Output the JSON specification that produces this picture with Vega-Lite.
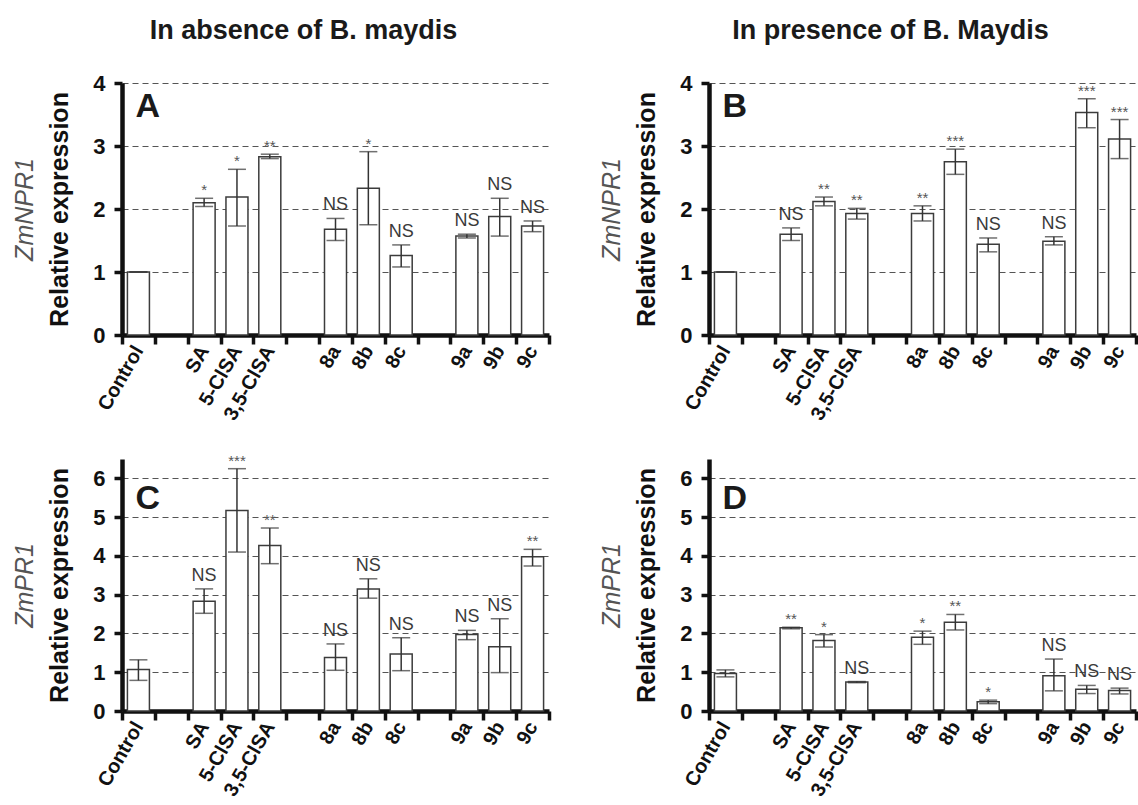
{
  "$schema": "https://vega.github.io/schema/vega-lite/v6.json",
  "background": "white",
  "padding": {"left": 12, "top": 17, "right": 0, "bottom": 0},
  "datasets": {
    "A": [
      {"cond": "Control", "value": 1.00, "lower": 1.00, "upper": 1.00, "sig": ""},
      {"cond": "SA", "value": 2.10, "lower": 2.04, "upper": 2.17, "sig": "*"},
      {"cond": "5-ClSA", "value": 2.19, "lower": 1.73, "upper": 2.63, "sig": "*"},
      {"cond": "3,5-ClSA", "value": 2.83, "lower": 2.80, "upper": 2.87, "sig": "**"},
      {"cond": "8a", "value": 1.68, "lower": 1.50, "upper": 1.85, "sig": "NS"},
      {"cond": "8b", "value": 2.33, "lower": 1.75, "upper": 2.91, "sig": "*"},
      {"cond": "8c", "value": 1.26, "lower": 1.08, "upper": 1.43, "sig": "NS"},
      {"cond": "9a", "value": 1.57, "lower": 1.54, "upper": 1.60, "sig": "NS"},
      {"cond": "9b", "value": 1.88, "lower": 1.57, "upper": 2.17, "sig": "NS"},
      {"cond": "9c", "value": 1.73, "lower": 1.64, "upper": 1.81, "sig": "NS"}
    ],
    "B": [
      {"cond": "Control", "value": 1.00, "lower": 1.00, "upper": 1.00, "sig": ""},
      {"cond": "SA", "value": 1.60, "lower": 1.50, "upper": 1.70, "sig": "NS"},
      {"cond": "5-ClSA", "value": 2.12, "lower": 2.05, "upper": 2.19, "sig": "**"},
      {"cond": "3,5-ClSA", "value": 1.93, "lower": 1.84, "upper": 2.01, "sig": "**"},
      {"cond": "8a", "value": 1.93, "lower": 1.81, "upper": 2.05, "sig": "**"},
      {"cond": "8b", "value": 2.75, "lower": 2.55, "upper": 2.95, "sig": "***"},
      {"cond": "8c", "value": 1.44, "lower": 1.32, "upper": 1.54, "sig": "NS"},
      {"cond": "9a", "value": 1.49, "lower": 1.43, "upper": 1.56, "sig": "NS"},
      {"cond": "9b", "value": 3.53, "lower": 3.29, "upper": 3.75, "sig": "***"},
      {"cond": "9c", "value": 3.11, "lower": 2.80, "upper": 3.42, "sig": "***"}
    ],
    "C": [
      {"cond": "Control", "value": 1.07, "lower": 0.79, "upper": 1.32, "sig": ""},
      {"cond": "SA", "value": 2.83, "lower": 2.52, "upper": 3.15, "sig": "NS"},
      {"cond": "5-ClSA", "value": 5.17, "lower": 4.10, "upper": 6.25, "sig": "***"},
      {"cond": "3,5-ClSA", "value": 4.27, "lower": 3.80, "upper": 4.72, "sig": "**"},
      {"cond": "8a", "value": 1.38, "lower": 1.05, "upper": 1.73, "sig": "NS"},
      {"cond": "8b", "value": 3.15, "lower": 2.91, "upper": 3.41, "sig": "NS"},
      {"cond": "8c", "value": 1.47, "lower": 1.04, "upper": 1.89, "sig": "NS"},
      {"cond": "9a", "value": 1.97, "lower": 1.84, "upper": 2.08, "sig": "NS"},
      {"cond": "9b", "value": 1.66, "lower": 0.99, "upper": 2.38, "sig": "NS"},
      {"cond": "9c", "value": 3.98, "lower": 3.74, "upper": 4.17, "sig": "**"}
    ],
    "D": [
      {"cond": "Control", "value": 0.97, "lower": 0.88, "upper": 1.06, "sig": ""},
      {"cond": "SA", "value": 2.15, "lower": 2.12, "upper": 2.16, "sig": "**"},
      {"cond": "5-ClSA", "value": 1.82, "lower": 1.65, "upper": 1.97, "sig": "*"},
      {"cond": "3,5-ClSA", "value": 0.75, "lower": 0.73, "upper": 0.76, "sig": "NS"},
      {"cond": "8a", "value": 1.90, "lower": 1.72, "upper": 2.06, "sig": "*"},
      {"cond": "8b", "value": 2.29, "lower": 2.09, "upper": 2.49, "sig": "**"},
      {"cond": "8c", "value": 0.24, "lower": 0.19, "upper": 0.28, "sig": "*"},
      {"cond": "9a", "value": 0.91, "lower": 0.52, "upper": 1.34, "sig": "NS"},
      {"cond": "9b", "value": 0.56, "lower": 0.45, "upper": 0.66, "sig": "NS"},
      {"cond": "9c", "value": 0.53, "lower": 0.44, "upper": 0.59, "sig": "NS"}
    ]
  },
  "config": {
    "font": "Liberation Sans",
    "view": {"stroke": null},
    "axis": {"domainColor": "#111", "domainWidth": 4.5, "tickColor": "#111", "tickWidth": 3.5, "labelColor": "#111", "labelFont": "Liberation Sans", "labelFontWeight": "bold", "titleFont": "Liberation Sans", "titleColor": "#111"},
    "axisX": {"domainWidth": 4.5, "tickWidth": 3.5, "labelAngle": -60, "labelAlign": "right", "labelBaseline": "middle", "labelFontSize": 20, "labelPadding": 3, "tickSize": 9, "tickBand": "extent", "labelOverlap": false, "grid": false, "zindex": 1},
    "axisY": {"domainWidth": 4.5, "tickWidth": 3.5, "labelFontSize": 22, "labelPadding": 9, "tickSize": 8, "titleFontSize": 25, "titleFontWeight": "bold", "titlePadding": 20, "grid": true, "gridDash": [6, 4], "gridColor": "#555", "gridWidth": 1.2}
  },
  "columns": 2,
  "bounds": "flush",
  "spacing": {"row": 124, "column": 160},
  "concat": [
    {
      "width": 427, "height": 252,
      "title": {"text": "In absence of B. maydis", "fontSize": 27, "fontWeight": "bold", "color": "#1a1a1a", "frame": "group", "dx": -32, "offset": 27},
      "data": {"name": "A"},
      "encoding": {"x": {"field": "cond", "type": "nominal", "scale": {"domain": ["Control", "g1", "SA", "5-ClSA", "3,5-ClSA", "g2", "8a", "8b", "8c", "g3", "9a", "9b", "9c"], "paddingInner": 0, "paddingOuter": 0}, "axis": {"title": null, "labelExpr": "indexof(['g1','g2','g3'], datum.value) >= 0 ? '' : datum.value"}}},
      "layer": [
        {"mark": {"type": "bar", "fill": "white", "stroke": "#3c3c3c", "strokeWidth": 1.5, "width": {"band": 0.67}},
         "encoding": {"y": {"field": "value", "type": "quantitative", "scale": {"domain": [0, 4], "nice": false}, "axis": {"title": "Relative expression", "values": [0, 1, 2, 3, 4]}}}},
        {"mark": {"type": "rule", "color": "#333", "strokeWidth": 1.5}, "encoding": {"y": {"field": "lower", "type": "quantitative", "scale": {"domain": [0, 4], "nice": false}, "axis": null}, "y2": {"field": "upper"}}},
        {"mark": {"type": "tick", "color": "#333", "thickness": 1.5, "size": 18}, "encoding": {"y": {"field": "lower", "type": "quantitative", "scale": {"domain": [0, 4], "nice": false}, "axis": null}}},
        {"mark": {"type": "tick", "color": "#333", "thickness": 1.5, "size": 18}, "encoding": {"y": {"field": "upper", "type": "quantitative", "scale": {"domain": [0, 4], "nice": false}, "axis": null}}},
        {"transform": [{"filter": "datum.sig === 'NS'"}], "mark": {"type": "text", "baseline": "alphabetic", "dy": -8, "fontSize": 18, "color": "#3a3a3a"}, "encoding": {"y": {"field": "upper", "type": "quantitative", "scale": {"domain": [0, 4], "nice": false}, "axis": null}, "text": {"field": "sig"}}},
        {"transform": [{"filter": "indexof(datum.sig, '*') >= 0"}], "mark": {"type": "text", "baseline": "alphabetic", "dy": -3, "fontSize": 15, "color": "#555"}, "encoding": {"y": {"field": "upper", "type": "quantitative", "scale": {"domain": [0, 4], "nice": false}, "axis": null}, "text": {"field": "sig"}}},
        {"data": {"values": [{"cond": "Control", "ly": 3.46, "letter": "A"}]},
         "mark": {"type": "text", "align": "left", "baseline": "alphabetic", "dx": -3, "fontSize": 34, "fontWeight": "bold", "color": "#1a1a1a"},
         "encoding": {"y": {"field": "ly", "type": "quantitative", "scale": {"domain": [0, 4], "nice": false}, "axis": {"orient": "left", "title": "ZmNPR1", "titleFontStyle": "italic", "titleFontWeight": "normal", "titleColor": "#555", "titlePadding": 85, "labels": false, "ticks": false, "domain": false, "grid": false}}, "text": {"field": "letter"}}}
      ],
      "resolve": {"scale": {"y": "independent"}}
    },
    {
      "width": 427, "height": 252,
      "title": {"text": "In presence of B. Maydis", "fontSize": 27, "fontWeight": "bold", "color": "#1a1a1a", "frame": "group", "dx": -32, "offset": 27},
      "data": {"name": "B"},
      "encoding": {"x": {"field": "cond", "type": "nominal", "scale": {"domain": ["Control", "g1", "SA", "5-ClSA", "3,5-ClSA", "g2", "8a", "8b", "8c", "g3", "9a", "9b", "9c"], "paddingInner": 0, "paddingOuter": 0}, "axis": {"title": null, "labelExpr": "indexof(['g1','g2','g3'], datum.value) >= 0 ? '' : datum.value"}}},
      "layer": [
        {"mark": {"type": "bar", "fill": "white", "stroke": "#3c3c3c", "strokeWidth": 1.5, "width": {"band": 0.67}},
         "encoding": {"y": {"field": "value", "type": "quantitative", "scale": {"domain": [0, 4], "nice": false}, "axis": {"title": "Relative expression", "values": [0, 1, 2, 3, 4]}}}},
        {"mark": {"type": "rule", "color": "#333", "strokeWidth": 1.5}, "encoding": {"y": {"field": "lower", "type": "quantitative", "scale": {"domain": [0, 4], "nice": false}, "axis": null}, "y2": {"field": "upper"}}},
        {"mark": {"type": "tick", "color": "#333", "thickness": 1.5, "size": 18}, "encoding": {"y": {"field": "lower", "type": "quantitative", "scale": {"domain": [0, 4], "nice": false}, "axis": null}}},
        {"mark": {"type": "tick", "color": "#333", "thickness": 1.5, "size": 18}, "encoding": {"y": {"field": "upper", "type": "quantitative", "scale": {"domain": [0, 4], "nice": false}, "axis": null}}},
        {"transform": [{"filter": "datum.sig === 'NS'"}], "mark": {"type": "text", "baseline": "alphabetic", "dy": -8, "fontSize": 18, "color": "#3a3a3a"}, "encoding": {"y": {"field": "upper", "type": "quantitative", "scale": {"domain": [0, 4], "nice": false}, "axis": null}, "text": {"field": "sig"}}},
        {"transform": [{"filter": "indexof(datum.sig, '*') >= 0"}], "mark": {"type": "text", "baseline": "alphabetic", "dy": -3, "fontSize": 15, "color": "#555"}, "encoding": {"y": {"field": "upper", "type": "quantitative", "scale": {"domain": [0, 4], "nice": false}, "axis": null}, "text": {"field": "sig"}}},
        {"data": {"values": [{"cond": "Control", "ly": 3.46, "letter": "B"}]},
         "mark": {"type": "text", "align": "left", "baseline": "alphabetic", "dx": -3, "fontSize": 34, "fontWeight": "bold", "color": "#1a1a1a"},
         "encoding": {"y": {"field": "ly", "type": "quantitative", "scale": {"domain": [0, 4], "nice": false}, "axis": {"orient": "left", "title": "ZmNPR1", "titleFontStyle": "italic", "titleFontWeight": "normal", "titleColor": "#555", "titlePadding": 85, "labels": false, "ticks": false, "domain": false, "grid": false}}, "text": {"field": "letter"}}}
      ],
      "resolve": {"scale": {"y": "independent"}}
    },
    {
      "width": 427, "height": 252,
      "data": {"name": "C"},
      "encoding": {"x": {"field": "cond", "type": "nominal", "scale": {"domain": ["Control", "g1", "SA", "5-ClSA", "3,5-ClSA", "g2", "8a", "8b", "8c", "g3", "9a", "9b", "9c"], "paddingInner": 0, "paddingOuter": 0}, "axis": {"title": null, "labelExpr": "indexof(['g1','g2','g3'], datum.value) >= 0 ? '' : datum.value"}}},
      "layer": [
        {"mark": {"type": "bar", "fill": "white", "stroke": "#3c3c3c", "strokeWidth": 1.5, "width": {"band": 0.67}},
         "encoding": {"y": {"field": "value", "type": "quantitative", "scale": {"domain": [0, 6.5], "nice": false}, "axis": {"title": "Relative expression", "values": [0, 1, 2, 3, 4, 5, 6]}}}},
        {"mark": {"type": "rule", "color": "#333", "strokeWidth": 1.5}, "encoding": {"y": {"field": "lower", "type": "quantitative", "scale": {"domain": [0, 6.5], "nice": false}, "axis": null}, "y2": {"field": "upper"}}},
        {"mark": {"type": "tick", "color": "#333", "thickness": 1.5, "size": 18}, "encoding": {"y": {"field": "lower", "type": "quantitative", "scale": {"domain": [0, 6.5], "nice": false}, "axis": null}}},
        {"mark": {"type": "tick", "color": "#333", "thickness": 1.5, "size": 18}, "encoding": {"y": {"field": "upper", "type": "quantitative", "scale": {"domain": [0, 6.5], "nice": false}, "axis": null}}},
        {"transform": [{"filter": "datum.sig === 'NS'"}], "mark": {"type": "text", "baseline": "alphabetic", "dy": -8, "fontSize": 18, "color": "#3a3a3a"}, "encoding": {"y": {"field": "upper", "type": "quantitative", "scale": {"domain": [0, 6.5], "nice": false}, "axis": null}, "text": {"field": "sig"}}},
        {"transform": [{"filter": "indexof(datum.sig, '*') >= 0"}], "mark": {"type": "text", "baseline": "alphabetic", "dy": -3, "fontSize": 15, "color": "#555"}, "encoding": {"y": {"field": "upper", "type": "quantitative", "scale": {"domain": [0, 6.5], "nice": false}, "axis": null}, "text": {"field": "sig"}}},
        {"data": {"values": [{"cond": "Control", "ly": 5.22, "letter": "C"}]},
         "mark": {"type": "text", "align": "left", "baseline": "alphabetic", "dx": -3, "fontSize": 34, "fontWeight": "bold", "color": "#1a1a1a"},
         "encoding": {"y": {"field": "ly", "type": "quantitative", "scale": {"domain": [0, 6.5], "nice": false}, "axis": {"orient": "left", "title": "ZmPR1", "titleFontStyle": "italic", "titleFontWeight": "normal", "titleColor": "#555", "titlePadding": 85, "labels": false, "ticks": false, "domain": false, "grid": false}}, "text": {"field": "letter"}}}
      ],
      "resolve": {"scale": {"y": "independent"}}
    },
    {
      "width": 427, "height": 252,
      "data": {"name": "D"},
      "encoding": {"x": {"field": "cond", "type": "nominal", "scale": {"domain": ["Control", "g1", "SA", "5-ClSA", "3,5-ClSA", "g2", "8a", "8b", "8c", "g3", "9a", "9b", "9c"], "paddingInner": 0, "paddingOuter": 0}, "axis": {"title": null, "labelExpr": "indexof(['g1','g2','g3'], datum.value) >= 0 ? '' : datum.value"}}},
      "layer": [
        {"mark": {"type": "bar", "fill": "white", "stroke": "#3c3c3c", "strokeWidth": 1.5, "width": {"band": 0.67}},
         "encoding": {"y": {"field": "value", "type": "quantitative", "scale": {"domain": [0, 6.5], "nice": false}, "axis": {"title": "Relative expression", "values": [0, 1, 2, 3, 4, 5, 6]}}}},
        {"mark": {"type": "rule", "color": "#333", "strokeWidth": 1.5}, "encoding": {"y": {"field": "lower", "type": "quantitative", "scale": {"domain": [0, 6.5], "nice": false}, "axis": null}, "y2": {"field": "upper"}}},
        {"mark": {"type": "tick", "color": "#333", "thickness": 1.5, "size": 18}, "encoding": {"y": {"field": "lower", "type": "quantitative", "scale": {"domain": [0, 6.5], "nice": false}, "axis": null}}},
        {"mark": {"type": "tick", "color": "#333", "thickness": 1.5, "size": 18}, "encoding": {"y": {"field": "upper", "type": "quantitative", "scale": {"domain": [0, 6.5], "nice": false}, "axis": null}}},
        {"transform": [{"filter": "datum.sig === 'NS'"}], "mark": {"type": "text", "baseline": "alphabetic", "dy": -8, "fontSize": 18, "color": "#3a3a3a"}, "encoding": {"y": {"field": "upper", "type": "quantitative", "scale": {"domain": [0, 6.5], "nice": false}, "axis": null}, "text": {"field": "sig"}}},
        {"transform": [{"filter": "indexof(datum.sig, '*') >= 0"}], "mark": {"type": "text", "baseline": "alphabetic", "dy": -3, "fontSize": 15, "color": "#555"}, "encoding": {"y": {"field": "upper", "type": "quantitative", "scale": {"domain": [0, 6.5], "nice": false}, "axis": null}, "text": {"field": "sig"}}},
        {"data": {"values": [{"cond": "Control", "ly": 5.2, "letter": "D"}]},
         "mark": {"type": "text", "align": "left", "baseline": "alphabetic", "dx": -3, "fontSize": 34, "fontWeight": "bold", "color": "#1a1a1a"},
         "encoding": {"y": {"field": "ly", "type": "quantitative", "scale": {"domain": [0, 6.5], "nice": false}, "axis": {"orient": "left", "title": "ZmPR1", "titleFontStyle": "italic", "titleFontWeight": "normal", "titleColor": "#555", "titlePadding": 85, "labels": false, "ticks": false, "domain": false, "grid": false}}, "text": {"field": "letter"}}}
      ],
      "resolve": {"scale": {"y": "independent"}}
    }
  ]
}
